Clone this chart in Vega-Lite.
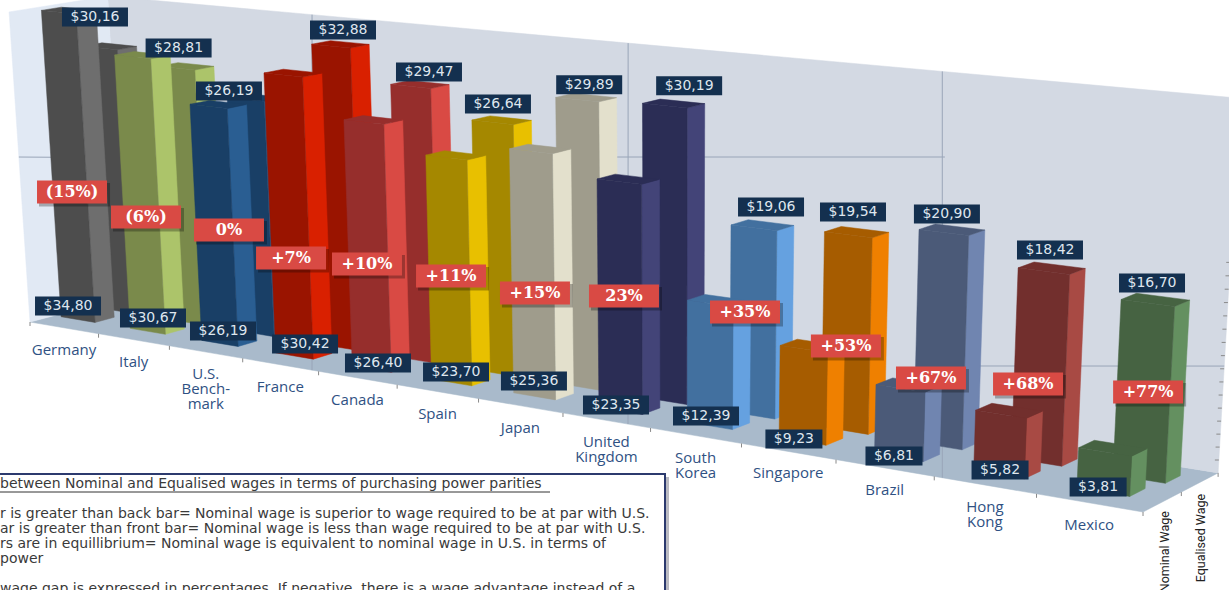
{"$schema":"https://vega.github.io/schema/vega-lite/v6.json","width":1229,"height":590,"autosize":"none","padding":0,"background":"#ffffff","config":{"view":{"stroke":null}},
"datasets":{
"bars":[
{"country":"Germany","i":0,"series":"Nominal","value":34.80,"gap":"(15%)","axis":"Germany"},{"country":"Germany","i":0,"series":"Equalised","value":30.16},
{"country":"Italy","i":1,"series":"Nominal","value":30.67,"gap":"(6%)","axis":"Italy"},{"country":"Italy","i":1,"series":"Equalised","value":28.81},
{"country":"US","i":2,"series":"Nominal","value":26.19,"gap":"0%","axis":"U.S.|Bench-|mark"},{"country":"US","i":2,"series":"Equalised","value":26.19},
{"country":"France","i":3,"series":"Nominal","value":30.42,"gap":"+7%","axis":"France"},{"country":"France","i":3,"series":"Equalised","value":32.88},
{"country":"Canada","i":4,"series":"Nominal","value":26.40,"gap":"+10%","axis":"Canada"},{"country":"Canada","i":4,"series":"Equalised","value":29.47},
{"country":"Spain","i":5,"series":"Nominal","value":23.70,"gap":"+11%","axis":"Spain"},{"country":"Spain","i":5,"series":"Equalised","value":26.64},
{"country":"Japan","i":6,"series":"Nominal","value":25.36,"gap":"+15%","axis":"Japan"},{"country":"Japan","i":6,"series":"Equalised","value":29.89},
{"country":"UK","i":7,"series":"Nominal","value":23.35,"gap":"23%","axis":"United|Kingdom"},{"country":"UK","i":7,"series":"Equalised","value":30.19},
{"country":"Korea","i":8,"series":"Nominal","value":12.39,"gap":"+35%","axis":"South|Korea"},{"country":"Korea","i":8,"series":"Equalised","value":19.06},
{"country":"Singapore","i":9,"series":"Nominal","value":9.23,"gap":"+53%","axis":"Singapore"},{"country":"Singapore","i":9,"series":"Equalised","value":19.54},
{"country":"Brazil","i":10,"series":"Nominal","value":6.81,"gap":"+67%","axis":"Brazil"},{"country":"Brazil","i":10,"series":"Equalised","value":20.90},
{"country":"HongKong","i":11,"series":"Nominal","value":5.82,"gap":"+68%","axis":"Hong|Kong"},{"country":"HongKong","i":11,"series":"Equalised","value":18.42},
{"country":"Mexico","i":12,"series":"Nominal","value":3.81,"gap":"+77%","axis":"Mexico"},{"country":"Mexico","i":12,"series":"Equalised","value":16.70}
],
"planes":[
{"id":"floor","n":0,"cc":0,"dd":0,"vv":0},{"id":"floor","n":1,"cc":13,"dd":0,"vv":0},{"id":"floor","n":2,"cc":13,"dd":1,"vv":0},{"id":"floor","n":3,"cc":0,"dd":1,"vv":0},
{"id":"back","n":0,"cc":0,"dd":1,"vv":0},{"id":"back","n":1,"cc":13,"dd":1,"vv":0},{"id":"back","n":2,"cc":13,"dd":1,"vv":35},{"id":"back","n":3,"cc":0,"dd":1,"vv":35},
{"id":"left","n":0,"cc":0,"dd":0,"vv":0},{"id":"left","n":1,"cc":0,"dd":1,"vv":0},{"id":"left","n":2,"cc":0,"dd":1,"vv":35},{"id":"left","n":3,"cc":0,"dd":0,"vv":35}
],
"grid":[
{"id":"a","n":0,"cc":3.915,"dd":0,"vv":0},{"id":"a","n":1,"cc":2.84,"dd":1,"vv":35},
{"id":"b","n":0,"cc":7.746,"dd":0,"vv":0},{"id":"b","n":1,"cc":6.75,"dd":1,"vv":35},
{"id":"c","n":0,"cc":11.08,"dd":0,"vv":0},{"id":"c","n":1,"cc":10.15,"dd":1,"vv":35},
{"id":"d","n":0,"cc":0,"dd":0,"vv":18.9},{"id":"d","n":1,"cc":0,"dd":0.33,"vv":18.1},
{"id":"e","n":0,"cc":6.41,"dd":1,"vv":23.03},{"id":"e","n":1,"cc":10.2,"dd":1,"vv":26.86},
{"id":"f","n":0,"cc":10.2,"dd":1,"vv":6.26},{"id":"f","n":1,"cc":13,"dd":1,"vv":10.26}
],
"ticks":[
{"kind":"floor","cc":0,"dd":0,"vv":0},{"kind":"floor","cc":1,"dd":0,"vv":0},{"kind":"floor","cc":2,"dd":0,"vv":0},{"kind":"floor","cc":3,"dd":0,"vv":0},{"kind":"floor","cc":4,"dd":0,"vv":0},{"kind":"floor","cc":5,"dd":0,"vv":0},{"kind":"floor","cc":6,"dd":0,"vv":0},{"kind":"floor","cc":7,"dd":0,"vv":0},{"kind":"floor","cc":8,"dd":0,"vv":0},{"kind":"floor","cc":9,"dd":0,"vv":0},{"kind":"floor","cc":10,"dd":0,"vv":0},{"kind":"floor","cc":11,"dd":0,"vv":0},{"kind":"floor","cc":12,"dd":0,"vv":0},{"kind":"floor","cc":13,"dd":0,"vv":0},{"kind":"floor","cc":13,"dd":0.5,"vv":0},{"kind":"floor","cc":13,"dd":1,"vv":0},
{"kind":"wall","cc":13,"dd":1,"vv":1.25},{"kind":"wall","cc":13,"dd":1,"vv":2.5},{"kind":"wall","cc":13,"dd":1,"vv":3.75},{"kind":"wall","cc":13,"dd":1,"vv":5},{"kind":"wall","cc":13,"dd":1,"vv":6.25},{"kind":"wall","cc":13,"dd":1,"vv":7.5},{"kind":"wall","cc":13,"dd":1,"vv":8.75},{"kind":"wall","cc":13,"dd":1,"vv":10},{"kind":"wall","cc":13,"dd":1,"vv":11.25},{"kind":"wall","cc":13,"dd":1,"vv":12.5},{"kind":"wall","cc":13,"dd":1,"vv":13.75},{"kind":"wall","cc":13,"dd":1,"vv":15},{"kind":"wall","cc":13,"dd":1,"vv":16.25},{"kind":"wall","cc":13,"dd":1,"vv":17.5},{"kind":"wall","cc":13,"dd":1,"vv":18.75},{"kind":"wall","cc":13,"dd":1,"vv":20}
],
"notes":[
{"row":0,"line":"between Nominal and Equalised wages in terms of purchasing power parities"},
{"row":2,"line":"r is greater than back bar= Nominal wage is superior to wage required to be at par with U.S."},
{"row":3,"line":"ar is greater than front bar= Nominal wage is less than wage  required to be at par with U.S."},
{"row":4,"line":"rs are in equillibrium=  Nominal wage is equivalent to nominal wage in U.S. in terms of"},
{"row":5,"line":"power"},
{"row":7,"line":"wage gap is expressed in percentages.  If negative, there is a wage advantage instead of a"}
]
},
"layer":[
{"data":{"name":"planes"},"transform":[{"filter":"datum.id=='floor'"},
{"calculate":"1-0.01634*datum.cc+0.0328*datum.dd-0.000897*datum.vv","as":"W"},
{"calculate":"(30+66.94*datum.cc+99.1*datum.dd-0.606*datum.vv)/datum.W","as":"X"},
{"calculate":"(322+6.25*datum.cc-15.3*datum.dd-8.87*datum.vv)/datum.W","as":"Y"}],
"mark":{"type":"line","interpolate":"linear-closed","clip":true,"strokeWidth":0.5,"fill":"#a9bacb","stroke":"#a9bacb"},
"encoding":{"x":{"field":"X","type":"quantitative","scale":{"domain":[0,1229],"range":[0,1229],"nice":false,"zero":false},"axis":null},
"y":{"field":"Y","type":"quantitative","scale":{"domain":[0,590],"range":[0,590],"nice":false,"zero":false},"axis":null},
"order":{"field":"n","type":"quantitative"}}},
{"data":{"name":"planes"},"transform":[{"filter":"datum.id=='back'"},
{"calculate":"1-0.01634*datum.cc+0.0328*datum.dd-0.000897*datum.vv","as":"W"},
{"calculate":"(30+66.94*datum.cc+99.1*datum.dd-0.606*datum.vv)/datum.W","as":"X"},
{"calculate":"(322+6.25*datum.cc-15.3*datum.dd-8.87*datum.vv)/datum.W","as":"Y"}],
"mark":{"type":"line","interpolate":"linear-closed","clip":true,"strokeWidth":0.5,"fill":"#d3d9e3","stroke":"#d3d9e3"},
"encoding":{"x":{"field":"X","type":"quantitative","axis":null},"y":{"field":"Y","type":"quantitative","axis":null},"order":{"field":"n","type":"quantitative"}}},
{"data":{"name":"planes"},"transform":[{"filter":"datum.id=='left'"},
{"calculate":"1-0.01634*datum.cc+0.0328*datum.dd-0.000897*datum.vv","as":"W"},
{"calculate":"(30+66.94*datum.cc+99.1*datum.dd-0.606*datum.vv)/datum.W","as":"X"},
{"calculate":"(322+6.25*datum.cc-15.3*datum.dd-8.87*datum.vv)/datum.W","as":"Y"}],
"mark":{"type":"line","interpolate":"linear-closed","clip":true,"strokeWidth":0.5,"fill":"#e1e9f4","stroke":"#e1e9f4"},
"encoding":{"x":{"field":"X","type":"quantitative","axis":null},"y":{"field":"Y","type":"quantitative","axis":null},"order":{"field":"n","type":"quantitative"}}},
{"data":{"name":"grid"},"transform":[
{"calculate":"1-0.01634*datum.cc+0.0328*datum.dd-0.000897*datum.vv","as":"W"},
{"calculate":"(30+66.94*datum.cc+99.1*datum.dd-0.606*datum.vv)/datum.W","as":"X"},
{"calculate":"(322+6.25*datum.cc-15.3*datum.dd-8.87*datum.vv)/datum.W","as":"Y"}],
"mark":{"type":"line","color":"#99a5b8","strokeWidth":1,"clip":true},
"encoding":{"x":{"field":"X","type":"quantitative","axis":null},"y":{"field":"Y","type":"quantitative","axis":null},"order":{"field":"n","type":"quantitative"},"detail":{"field":"id"}}},
{"data":{"name":"ticks"},"transform":[
{"calculate":"1-0.01634*datum.cc+0.0328*datum.dd-0.000897*datum.vv","as":"W"},
{"calculate":"(30+66.94*datum.cc+99.1*datum.dd-0.606*datum.vv)/datum.W","as":"X"},
{"calculate":"(322+6.25*datum.cc-15.3*datum.dd-8.87*datum.vv)/datum.W","as":"Y"},
{"calculate":"datum.kind=='wall'?datum.X-4:datum.X","as":"X2"},
{"calculate":"datum.kind=='wall'?datum.Y:datum.Y+4","as":"Y2"}],
"mark":{"type":"rule","color":"#8a8a8a","strokeWidth":1},
"encoding":{"x":{"field":"X","type":"quantitative","axis":null},"y":{"field":"Y","type":"quantitative","axis":null},"x2":{"field":"X2"},"y2":{"field":"Y2"}}},
{"data":{"name":"bars"},"transform":[
{"filter":"datum.series=='Equalised'"},
{"calculate":"[0,1,2,3,4,5,6,7,8,9,10,11]","as":"k"},{"flatten":["k"]},
{"calculate":"floor(datum.k/4)","as":"face"},{"calculate":"datum.k%4","as":"j"},
{"calculate":"datum.i*1.008+0.1+[0.03,0.1,0.02,0.17,0.16,0.15,0.15,0.14,0.12,0.12,0.09,0.08,0.07][datum.i]","as":"c0"},{"calculate":"datum.c0+0.5","as":"c1"},
{"calculate":"0.62","as":"d0"},{"calculate":"datum.d0+0.2","as":"d1"},
{"calculate":"datum.face==0?datum.c1:((datum.j==0||datum.j==3)?datum.c0:datum.c1)","as":"cc"},
{"calculate":"datum.face==2?datum.d0:(datum.face==0?((datum.j==0||datum.j==3)?datum.d0:datum.d1):(datum.j<2?datum.d0:datum.d1))","as":"dd"},
{"calculate":"datum.face==1?datum.value:(datum.j<2?0:datum.value)","as":"vv"},
{"calculate":"1-0.01634*datum.cc+0.0328*datum.dd-0.000897*datum.vv","as":"W"},
{"calculate":"(30+66.94*datum.cc+99.1*datum.dd-0.606*datum.vv)/datum.W","as":"X"},
{"calculate":"(322+6.25*datum.cc-15.3*datum.dd-8.87*datum.vv)/datum.W","as":"Y"},
{"calculate":"datum.country+(datum.face==0?'|side':'|front')","as":"key"},
{"calculate":"datum.country+datum.face","as":"id"}],
"mark":{"type":"line","interpolate":"linear-closed","clip":true,"strokeWidth":0.5},
"encoding":{"x":{"field":"X","type":"quantitative","axis":null},"y":{"field":"Y","type":"quantitative","axis":null},
"order":{"field":"j","type":"quantitative"},"detail":{"field":"id"},
"fill":{"field":"key","type":"nominal","legend":null,"scale":{"domain":["Germany|front","Germany|side","Italy|front","Italy|side","US|front","US|side","France|front","France|side","Canada|front","Canada|side","Spain|front","Spain|side","Japan|front","Japan|side","UK|front","UK|side","Korea|front","Korea|side","Singapore|front","Singapore|side","Brazil|front","Brazil|side","HongKong|front","HongKong|side","Mexico|front","Mexico|side"],"range":["#4d4d4d","#6e6e6e","#7a8a4b","#acc46a","#193f66","#2a5e92","#9a1400","#d92000","#962e2c","#d94a44","#a58800","#e8c000","#9f9c8c","#e3e0cc","#2b2d55","#434478","#42709f","#65a1e0","#a65c00","#ef8000","#4b5a78","#7085b0","#722f2d","#a84a44","#466342","#649060"]}},
"stroke":{"field":"key","type":"nominal","legend":null,"scale":{"domain":["Germany|front","Germany|side","Italy|front","Italy|side","US|front","US|side","France|front","France|side","Canada|front","Canada|side","Spain|front","Spain|side","Japan|front","Japan|side","UK|front","UK|side","Korea|front","Korea|side","Singapore|front","Singapore|side","Brazil|front","Brazil|side","HongKong|front","HongKong|side","Mexico|front","Mexico|side"],"range":["#4d4d4d","#6e6e6e","#7a8a4b","#acc46a","#193f66","#2a5e92","#9a1400","#d92000","#962e2c","#d94a44","#a58800","#e8c000","#9f9c8c","#e3e0cc","#2b2d55","#434478","#42709f","#65a1e0","#a65c00","#ef8000","#4b5a78","#7085b0","#722f2d","#a84a44","#466342","#649060"]}}}},
{"data":{"name":"bars"},"transform":[
{"filter":"datum.series=='Nominal'"},
{"calculate":"[0,1,2,3,4,5,6,7,8,9,10,11]","as":"k"},{"flatten":["k"]},
{"calculate":"floor(datum.k/4)","as":"face"},{"calculate":"datum.k%4","as":"j"},
{"calculate":"datum.i*1.008+0.1","as":"c0"},{"calculate":"datum.c0+0.5","as":"c1"},
{"calculate":"0.25","as":"d0"},{"calculate":"datum.d0+0.2","as":"d1"},
{"calculate":"datum.face==0?datum.c1:((datum.j==0||datum.j==3)?datum.c0:datum.c1)","as":"cc"},
{"calculate":"datum.face==2?datum.d0:(datum.face==0?((datum.j==0||datum.j==3)?datum.d0:datum.d1):(datum.j<2?datum.d0:datum.d1))","as":"dd"},
{"calculate":"datum.face==1?datum.value:(datum.j<2?0:datum.value)","as":"vv"},
{"calculate":"1-0.01634*datum.cc+0.0328*datum.dd-0.000897*datum.vv","as":"W"},
{"calculate":"(30+66.94*datum.cc+99.1*datum.dd-0.606*datum.vv)/datum.W","as":"X"},
{"calculate":"(322+6.25*datum.cc-15.3*datum.dd-8.87*datum.vv)/datum.W","as":"Y"},
{"calculate":"datum.country+(datum.face==0?'|side':'|front')","as":"key"},
{"calculate":"datum.country+datum.face","as":"id"}],
"mark":{"type":"line","interpolate":"linear-closed","clip":true,"strokeWidth":0.5},
"encoding":{"x":{"field":"X","type":"quantitative","axis":null},"y":{"field":"Y","type":"quantitative","axis":null},
"order":{"field":"j","type":"quantitative"},"detail":{"field":"id"},
"fill":{"field":"key","type":"nominal","legend":null},
"stroke":{"field":"key","type":"nominal","legend":null}}},
{"data":{"name":"bars"},"transform":[
{"filter":"datum.series=='Equalised'"},
{"calculate":"datum.i+0.35","as":"c"},
{"calculate":"1.0236-0.01634*datum.c-0.000897*datum.value","as":"W"},
{"calculate":"(101.35+66.94*datum.c-0.606*datum.value)/datum.W+[-12.5,0,-23.5,17.6,24.4,12,20,33,25.4,14.6,11.8,15.5,14.3][datum.i]","as":"X"},
{"calculate":"(311+6.25*datum.c-8.87*datum.value)/datum.W+[-29,-17.5,-6,-13,-11,-14.5,-11,-16,-16,-17.8,-13.7,-16,-14.6][datum.i]","as":"Y"},
{"calculate":"datum.X-33","as":"X0"},{"calculate":"datum.X+33","as":"X1"},{"calculate":"datum.Y-9.5","as":"Y0"},{"calculate":"datum.Y+9.5","as":"Y1"},
{"calculate":"'$'+replace(format(datum.value,'.2f'),'.',',')","as":"lab"}],
"layer":[
{"mark":{"type":"rect","color":"#14304f"},"encoding":{"x":{"field":"X0","type":"quantitative","axis":null},"x2":{"field":"X1"},"y":{"field":"Y0","type":"quantitative","axis":null},"y2":{"field":"Y1"}}},
{"mark":{"type":"text","color":"#dfe6ee","font":"DejaVu Sans","fontSize":14,"align":"center","baseline":"middle"},"encoding":{"x":{"field":"X","type":"quantitative","axis":null},"y":{"field":"Y","type":"quantitative","axis":null},"text":{"field":"lab"}}}]},
{"data":{"name":"bars"},"transform":[
{"filter":"datum.series=='Nominal'"},
{"calculate":"datum.i+0.35","as":"c"},
{"calculate":"1.0082-0.01634*datum.c","as":"W"},
{"calculate":"(54.78+66.94*datum.c)/datum.W","as":"BX"},
{"calculate":"(318.18+6.25*datum.c)/datum.W","as":"BY"},
{"calculate":"datum.BX+[-10,5.8,4.3,12.4,8.8,7.6,3.4,0.3,2,-1.8,3,10,5][datum.i]","as":"X"},
{"calculate":"datum.BY+[-13.6,-13.2,-12.2,-11.7,-5.6,-9.8,-14.7,-5,-8.9,-1.3,-0.3,-3,-3.3][datum.i]","as":"Y"},
{"calculate":"datum.value<10?28.5:33","as":"hw"},
{"calculate":"datum.X-datum.hw","as":"X0"},{"calculate":"datum.X+datum.hw","as":"X1"},{"calculate":"datum.Y-9.5","as":"Y0"},{"calculate":"datum.Y+9.5","as":"Y1"},
{"calculate":"'$'+replace(format(datum.value,'.2f'),'.',',')","as":"lab"},
{"calculate":"datum.BX+[-6,-1.2,10.3,-1.6,-2.2,2.6,4.4,8.3,41,50.2,40,38,55][datum.i]","as":"PX"},
{"calculate":"datum.BY+[-127.6,-114.2,-113.2,-97.7,-104.6,-105.8,-102.7,-114,-112.9,-94.3,-78.3,-89,-98.3][datum.i]","as":"PY"},
{"calculate":"datum.PX-35","as":"PX0"},{"calculate":"datum.PX+35","as":"PX1"},{"calculate":"datum.PY-11.5","as":"PY0"},{"calculate":"datum.PY+11.5","as":"PY1"},
{"calculate":"datum.PX-33","as":"SX0"},{"calculate":"datum.PX+38","as":"SX1"},{"calculate":"datum.PY-9","as":"SY0"},{"calculate":"datum.PY+14.5","as":"SY1"},
{"calculate":"datum.i+0.5","as":"ac"},
{"calculate":"1-0.01634*datum.ac","as":"AW"},
{"calculate":"(30+66.94*datum.ac)/datum.AW","as":"AX"},
{"calculate":"(322+6.25*datum.ac)/datum.AW","as":"AY"},
{"calculate":"split(datum.axis,'|')","as":"axisLines"}],
"layer":[
{"mark":{"type":"rect","color":"#14304f"},"encoding":{"x":{"field":"X0","type":"quantitative","axis":null},"x2":{"field":"X1"},"y":{"field":"Y0","type":"quantitative","axis":null},"y2":{"field":"Y1"}}},
{"mark":{"type":"text","color":"#dfe6ee","font":"DejaVu Sans","fontSize":14,"align":"center","baseline":"middle"},"encoding":{"x":{"field":"X","type":"quantitative","axis":null},"y":{"field":"Y","type":"quantitative","axis":null},"text":{"field":"lab"}}},
{"mark":{"type":"rect","color":"#000000","opacity":0.28},"encoding":{"x":{"field":"SX0","type":"quantitative","axis":null},"x2":{"field":"SX1"},"y":{"field":"SY0","type":"quantitative","axis":null},"y2":{"field":"SY1"}}},
{"mark":{"type":"rect","color":"#d94a44"},"encoding":{"x":{"field":"PX0","type":"quantitative","axis":null},"x2":{"field":"PX1"},"y":{"field":"PY0","type":"quantitative","axis":null},"y2":{"field":"PY1"}}},
{"mark":{"type":"text","color":"#ffffff","font":"DejaVu Serif","fontWeight":"bold","fontSize":16,"align":"center","baseline":"middle"},"encoding":{"x":{"field":"PX","type":"quantitative","axis":null},"y":{"field":"PY","type":"quantitative","axis":null},"text":{"field":"gap"}}},
{"mark":{"type":"text","color":"#2f5183","font":"Open Sans","fontSize":15,"align":"center","baseline":"alphabetic","dy":27,"lineHeight":15},"encoding":{"x":{"field":"AX","type":"quantitative","axis":null},"y":{"field":"AY","type":"quantitative","axis":null},"text":{"field":"axisLines"}}}]},
{"data":{"values":[{"t":"Nominal Wage","p":"n"},{"t":"Equalised Wage","p":"e"}]},"transform":[
{"calculate":"datum.p=='n'?0.5:1","as":"dd"},
{"calculate":"0.7876+0.0328*datum.dd","as":"W"},
{"calculate":"(900.2+99.1*datum.dd)/datum.W+(datum.p=='n'?-16:-17)","as":"X"},
{"calculate":"(403.25-15.3*datum.dd)/datum.W+(datum.p=='n'?19:21)","as":"Y"}],
"mark":{"type":"text","angle":270,"align":"right","baseline":"middle","font":"Roboto","fontSize":12.5,"color":"#222222"},
"encoding":{"x":{"field":"X","type":"quantitative","axis":null},"y":{"field":"Y","type":"quantitative","axis":null},"text":{"field":"t"}}},
{"data":{"values":[{"a":1}]},"mark":{"type":"rect","color":"#8c8c98","opacity":0.6},"encoding":{"x":{"value":-5},"x2":{"value":669},"y":{"value":477},"y2":{"value":600}}},
{"data":{"values":[{"a":1}]},"mark":{"type":"rect","fill":"#ffffff","stroke":"#2c3a6e","strokeWidth":2},"encoding":{"x":{"value":-5},"x2":{"value":665},"y":{"value":474},"y2":{"value":600}}},
{"data":{"name":"notes"},"transform":[{"calculate":"484+15*datum.row","as":"Y"}],
"mark":{"type":"text","align":"left","baseline":"middle","font":"DejaVu Sans","fontSize":14,"color":"#3a3a3a"},"encoding":{"x":{"value":0},"y":{"field":"Y","type":"quantitative","axis":null},"text":{"field":"line"}}},
{"data":{"values":[{"a":1}]},"mark":{"type":"rule","color":"#333333","strokeWidth":1},"encoding":{"x":{"value":0},"x2":{"value":550},"y":{"value":492}}}
]}
